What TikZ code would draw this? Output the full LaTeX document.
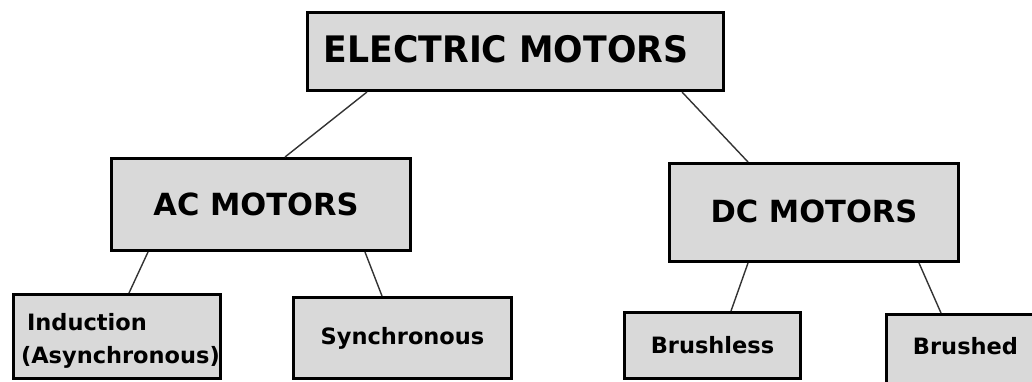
\documentclass[tikz,border=0pt]{standalone}
\usepackage{fontspec}
\setmainfont{DejaVu Sans}
\newfontfamily\titlefont[FakeStretch=0.95]{DejaVu Sans}
\usetikzlibrary{calc}
\definecolor{boxfill}{HTML}{D9D9D9}
\definecolor{linkcol}{HTML}{333333}
\tikzset{
  box/.style={draw=black, fill=boxfill, line width=3pt, inner sep=0pt, anchor=center},
  bigtxt/.style={font=\fontsize{30.5}{34}\selectfont\bfseries},
  smalltxt/.style={font=\fontsize{22.5}{33}\selectfont\bfseries},
  link/.style={draw=linkcol, line width=1.4pt}
}
\begin{document}
\begin{tikzpicture}[x=1pt, y=-1pt]
\useasboundingbox (0,0) rectangle (1032,381);
\clip (0,0) rectangle (1032,381);
\fill[white] (0,0) rectangle (1032,381);
% boxes
\node[box, minimum width=416pt, minimum height=78pt, font=\titlefont\fontsize{36.5}{40}\selectfont\bfseries]
  (top) at (515.5,51.5) {\raisebox{5pt}{ELECTRIC MOTORS}\hspace*{19pt}};
\node[box, bigtxt, minimum width=299pt, minimum height=92pt] (ac) at (261,204.5) {\raisebox{1pt}{AC MOTORS}\hspace*{10pt}};
\node[box, bigtxt, minimum width=289pt, minimum height=98pt] (dc) at (814,212.5) {\raisebox{3pt}{DC MOTORS}};
\node[box, smalltxt, minimum width=207pt, minimum height=84pt, text width=192pt, align=left] (ind) at (117,336.5)
  {\rule{0pt}{26pt}\hspace*{6pt}Induction\\(Asynchronous)};
\node[box, smalltxt, minimum width=218pt, minimum height=81pt] (syn) at (402.5,338) {Synchronous};
\node[box, smalltxt, minimum width=176pt, minimum height=66pt] (bl) at (712.5,345.5) {Brushless};
\node[box, smalltxt, minimum width=200pt, minimum height=79pt] (bd) at (986.5,354) {\raisebox{17pt}{Brushed}\hspace*{42pt}};
% connectors
\draw[link] ([xshift=-148.5pt]top.south) -- ([xshift=24pt]ac.north);
\draw[link] ([xshift=166.5pt]top.south) -- ([xshift=-66pt]dc.north);
\draw[link] ([xshift=-113pt]ac.south) -- ([xshift=12pt]ind.north);
\draw[link] ([xshift=104pt]ac.south) -- ([xshift=-20.5pt]syn.north);
\draw[link] ([xshift=-66pt]dc.south) -- ([xshift=18.5pt]bl.north);
\draw[link] ([xshift=105pt]dc.south) -- ([xshift=-45.5pt]bd.north);
\end{tikzpicture}
\end{document}
